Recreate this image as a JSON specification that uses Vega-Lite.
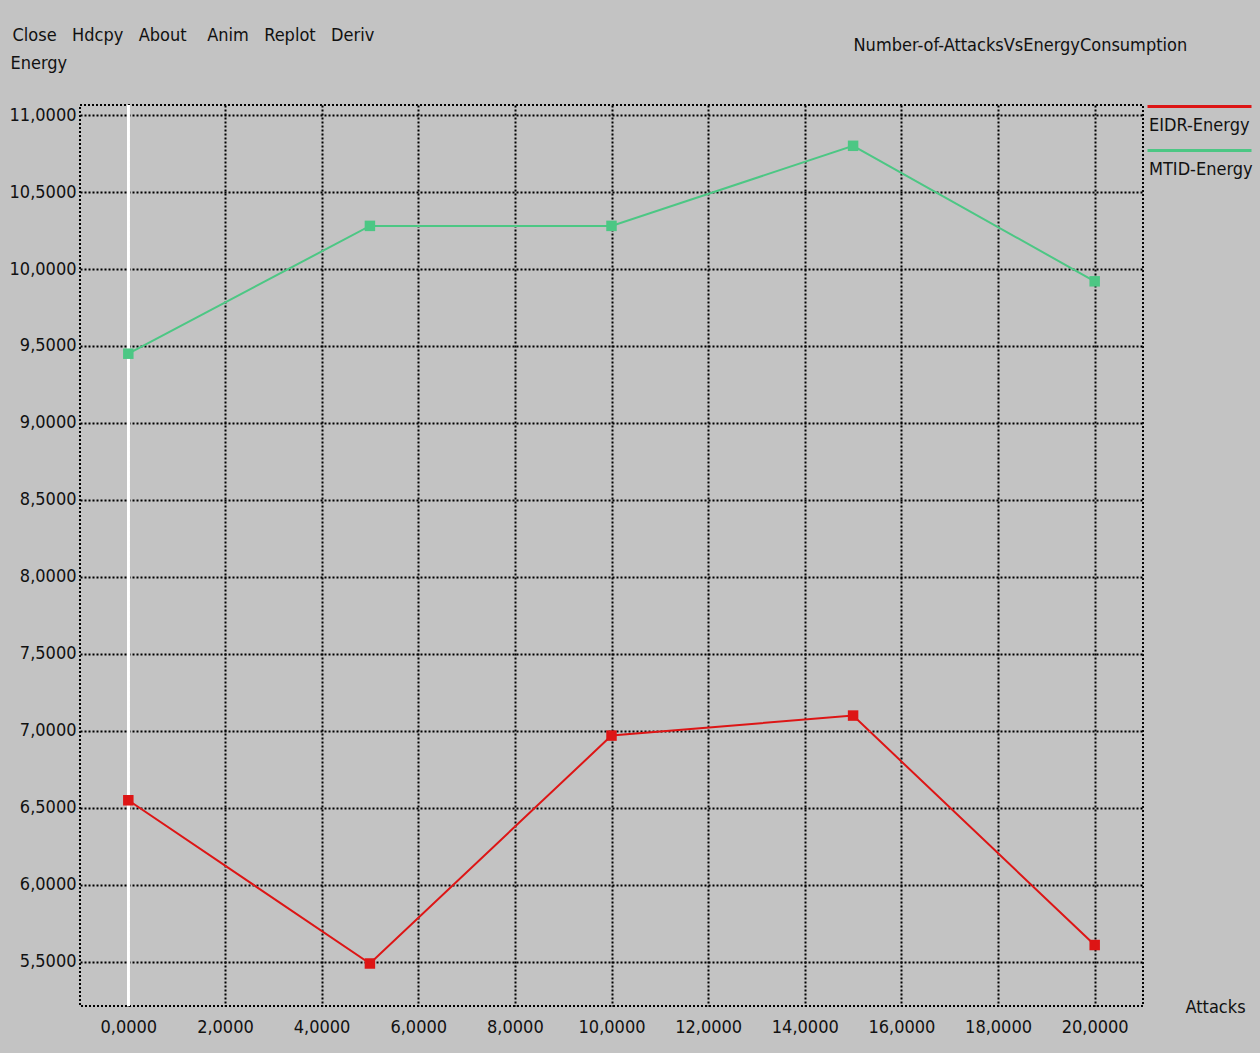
{
  "$schema": "https://vega.github.io/schema/vega-lite/v6.json",
  "width": 1063,
  "height": 901,
  "autosize": {"type": "none"},
  "padding": {"left": 80, "top": 105, "right": 117, "bottom": 47},
  "background": "#c3c3c3",
  "config": {
    "locale": {"number": {"decimal": ",", "thousands": ".", "grouping": [3], "currency": ["", ""]}},
    "view": {"stroke": "#000000", "strokeWidth": 2, "strokeDash": [2, 2], "fill": "#c3c3c3"},
    "font": "DejaVu Sans Condensed",
    "axis": {
      "labelFont": "DejaVu Sans Condensed",
      "labelFontSize": 18,
      "labelColor": "#111111",
      "titleFont": "DejaVu Sans Condensed",
      "titleFontSize": 18,
      "titleFontWeight": "normal",
      "titleColor": "#111111",
      "ticks": false,
      "domain": false,
      "gridColor": "#000000",
      "gridOpacity": 1,
      "gridWidth": 2,
      "gridDash": [2, 2]
    },
    "legend": {
      "orient": "none",
      "legendX": 1066,
      "legendY": 9,
      "padding": 0,
      "labelFont": "DejaVu Sans Condensed",
      "labelFontSize": 18,
      "labelColor": "#111111",
      "symbolSize": 400,
      "symbolStrokeWidth": 3,
      "labelOffset": -20,
      "rowPadding": 9
    }
  },
  "data": {
    "values": [
      {"attacks": 0, "energy": 6.55, "series": "EIDR-Energy"},
      {"attacks": 5, "energy": 5.49, "series": "EIDR-Energy"},
      {"attacks": 10, "energy": 6.97, "series": "EIDR-Energy"},
      {"attacks": 15, "energy": 7.10, "series": "EIDR-Energy"},
      {"attacks": 20, "energy": 5.61, "series": "EIDR-Energy"},
      {"attacks": 0, "energy": 9.45, "series": "MTID-Energy"},
      {"attacks": 5, "energy": 10.28, "series": "MTID-Energy"},
      {"attacks": 10, "energy": 10.28, "series": "MTID-Energy"},
      {"attacks": 15, "energy": 10.80, "series": "MTID-Energy"},
      {"attacks": 20, "energy": 9.92, "series": "MTID-Energy"}
    ]
  },
  "resolve": {"axis": {"x": "independent", "y": "independent"}},
  "layer": [
    {
      "mark": {"type": "rule", "color": "#ffffff", "strokeWidth": 2},
      "encoding": {
        "x": {"datum": 0, "type": "quantitative", "scale": {"domain": [-1, 21], "nice": false, "zero": false}, "axis": null}
      }
    },
    {
      "mark": {"type": "line", "strokeWidth": 2},
      "encoding": {
        "x": {
          "field": "attacks", "type": "quantitative",
          "scale": {"domain": [-1, 21], "nice": false, "zero": false},
          "axis": {
            "orient": "bottom", "values": [0, 2, 4, 6, 8, 10, 12, 14, 16, 18, 20], "format": ".4f",
            "labelPadding": 12, "grid": true,
            "title": "Attacks", "titleX": 1105, "titleY": 1, "titleAlign": "left", "titleBaseline": "middle"
          }
        },
        "y": {
          "field": "energy", "type": "quantitative",
          "scale": {"domain": [5.214, 11.065], "nice": false, "zero": false},
          "axis": {
            "orient": "left", "values": [5.5, 6, 6.5, 7, 7.5, 8, 8.5, 9, 9.5, 10, 10.5, 11], "format": ".4f",
            "labelPadding": 4, "grid": true,
            "title": "Energy", "titleAngle": 0, "titleX": -70, "titleY": -42, "titleAlign": "left", "titleBaseline": "middle"
          }
        },
        "color": {
          "field": "series", "type": "nominal",
          "scale": {"domain": ["EIDR-Energy", "MTID-Energy"], "range": ["#dd1515", "#4cc784"]},
          "legend": {"title": null, "symbolType": "M -1 -1.9 L 9.4 -1.9"}
        }
      }
    },
    {
      "mark": {"type": "point", "shape": "square", "filled": true, "size": 110, "opacity": 1},
      "encoding": {
        "x": {
          "field": "attacks", "type": "quantitative",
          "scale": {"domain": [-1, 21], "nice": false, "zero": false},
          "axis": {
            "orient": "top", "labels": false, "grid": false,
            "title": "Number-of-AttacksVsEnergyConsumption", "titleX": 773, "titleY": -60, "titleAlign": "left", "titleBaseline": "middle"
          }
        },
        "y": {
          "field": "energy", "type": "quantitative",
          "scale": {"domain": [5.214, 11.065], "nice": false, "zero": false},
          "axis": {
            "orient": "right", "labels": false, "grid": false,
            "title": "Close\u00a0\u00a0\u00a0Hdcpy\u00a0\u00a0\u00a0About\u00a0\u00a0\u00a0\u00a0Anim\u00a0\u00a0\u00a0Replot\u00a0\u00a0\u00a0Deriv", "titleAngle": 0, "titleX": -1131, "titleY": -70, "titleAlign": "left", "titleBaseline": "middle"
          }
        },
        "color": {"field": "series", "type": "nominal", "legend": null}
      }
    }
  ]
}
